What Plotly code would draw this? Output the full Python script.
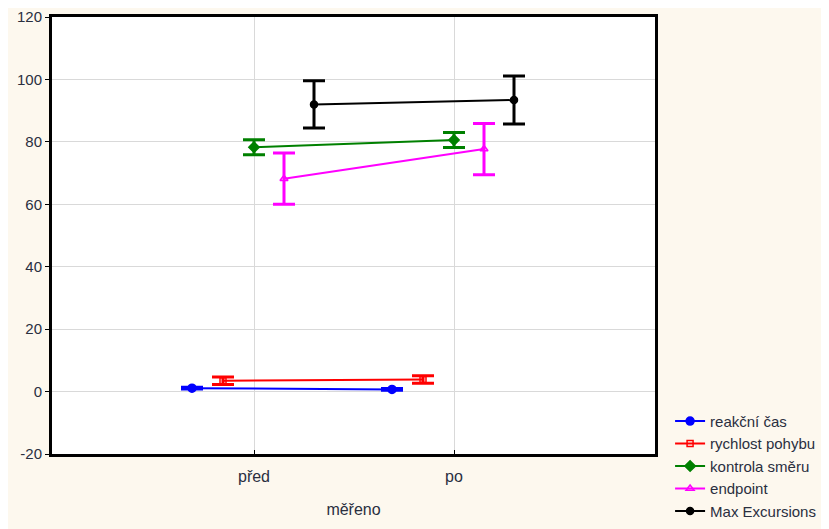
import plotly.graph_objects as go

categories = ["před", "po"]
series_names = ["reakční čas", "rychlost pohybu", "kontrola směru", "endpoint", "Max Excursions"]
reakcni_cas = [1.1, 0.7]
reakcni_cas_err = [0.3, 0.3]
rychlost_pohybu = [3.5, 3.9]
rychlost_pohybu_err = [1.2, 1.2]
kontrola_smeru = [78.3, 80.6]
kontrola_smeru_err = [2.4, 2.4]
endpoint = [68.2, 77.7]
endpoint_err = [8.2, 8.2]
max_excursions = [92.0, 93.4]
max_excursions_err = [7.6, 7.7]
y_ticks = [-20, 0, 20, 40, 60, 80, 100, 120]
y_tick_labels = ["-20", "0", "20", "40", "60", "80", "100", "120"]

values = [reakcni_cas, rychlost_pohybu, kontrola_smeru, endpoint, max_excursions]
errors = [reakcni_cas_err, rychlost_pohybu_err, kontrola_smeru_err, endpoint_err, max_excursions_err]
colors = ["#0000ff", "#ff0000", "#008000", "#ff00ff", "#000000"]
symbols = ["circle", "square-open", "diamond", "triangle-up-open", "circle"]
sizes = [8, 6, 8, 7, 7]
offsets = [-0.31, -0.155, 0.0, 0.15, 0.3]

fig = go.Figure()
for name, v, e, c, s, sz, off in zip(series_names, values, errors, colors, symbols, sizes, offsets):
    xs = [i + off for i in range(len(categories))]
    fig.add_trace(go.Scatter(
        x=xs, y=v, name=name, mode="lines+markers",
        line=dict(color=c, width=2),
        marker=dict(color=c, symbol=s, size=sz, line=dict(color=c, width=1.5)),
        error_y=dict(type="data", array=e, visible=True, color=c, thickness=3, width=11),
    ))

txt = "#2a2f3f"
fig.update_layout(
    width=829, height=529,
    paper_bgcolor="#fdf8ee", plot_bgcolor="#ffffff",
    margin=dict(l=44, r=182, t=9, b=83, autoexpand=False),
    font=dict(family="Liberation Sans, Arial, sans-serif", size=15, color=txt),
    showlegend=True,
    legend=dict(x=1.025, xanchor="left", y=-0.169, yanchor="bottom",
                bgcolor="rgba(0,0,0,0)", font=dict(size=15, color=txt),
                itemwidth=30, tracegroupgap=0),
)
fig.update_xaxes(
    range=[-1.01, 2.005], tickvals=list(range(len(categories))), ticktext=categories,
    tickfont=dict(size=16), ticklabelstandoff=6,
    showgrid=True, gridcolor="#d9d9d9", gridwidth=1, zeroline=False,
    showline=True, linecolor="#000000", linewidth=3, mirror=True,
    ticks="inside", ticklen=4, tickcolor="#000000",
    title=dict(text="měřeno", standoff=20, font=dict(size=16, color=txt)),
)
fig.update_yaxes(
    range=[-20, 120], tickvals=y_ticks, ticktext=y_tick_labels, tickfont=dict(size=15),
    showgrid=True, gridcolor="#d9d9d9", gridwidth=1, zeroline=False,
    showline=True, linecolor="#000000", linewidth=3, mirror=True,
    ticks="outside", ticklen=4, tickcolor="#000000",
)
fig.write_html("out.html")
